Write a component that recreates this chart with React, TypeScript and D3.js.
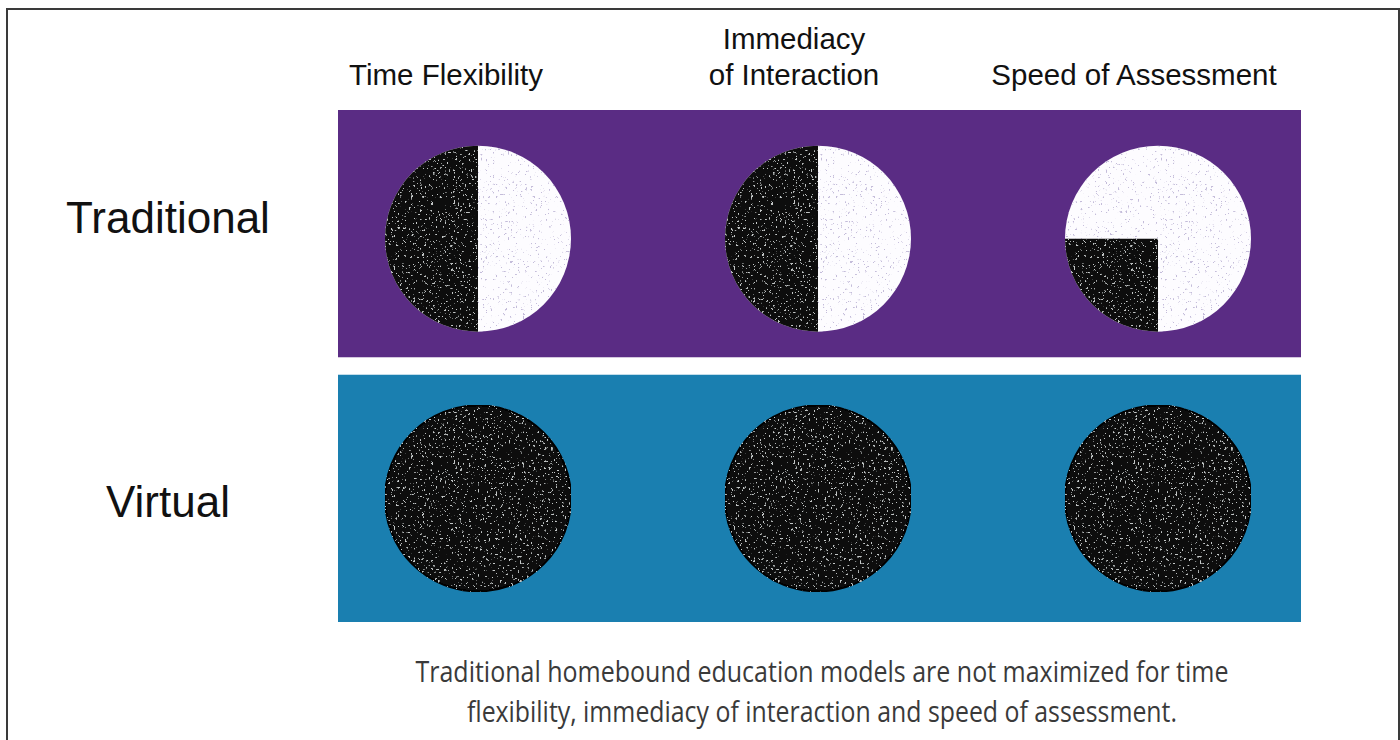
import React from "react";
import * as d3 from "d3";

const columns = ["Time Flexibility", "Immediacy of Interaction", "Speed of Assessment"];
const columnLabelLines = [["Time Flexibility"], ["Immediacy", "of Interaction"], ["Speed of Assessment"]];
const columnLabelShift = [-30, -22, -22];
const rows = ["Traditional", "Virtual"];
const traditionalValues = [0.5, 0.5, 0.25];
const virtualValues = [1, 1, 1];
const rowValues = [traditionalValues, virtualValues];
const captionLines = [
  "Traditional homebound education models are not maximized for time",
  "flexibility, immediacy of interaction and speed of assessment.",
];

const W = 1400;
const H = 740;

export default function App() {
  const x = d3.scaleBand<string>().domain(columns).range([306, 1326]).padding(0);
  const y = d3.scaleBand<string>().domain(rows).range([110, 622]).paddingInner(0.066).paddingOuter(0);
  const panelColors = ["#5a2c84", "#1a7fb0"];
  const r = 93;
  const arc = d3.arc<any>().innerRadius(0).outerRadius(r);

  return (
    <svg
      width={W}
      height={H}
      style={{ position: "absolute", left: 0, top: 0, background: "#fff" }}
      fontFamily="Arial, 'Liberation Sans', sans-serif"
    >
      <defs>
        <filter id="speckDark" x="0" y="0" width="100%" height="100%">
          <feTurbulence type="fractalNoise" baseFrequency="0.45" numOctaves="2" seed="4" result="n" />
          <feColorMatrix
            in="n"
            type="matrix"
            values="0 0 0 0 0.55  0 0 0 0 0.58  0 0 0 0 0.58  14 0 0 0 -9.2"
            result="s"
          />
          <feComposite in="s" in2="SourceGraphic" operator="in" result="sc" />
          <feMerge>
            <feMergeNode in="SourceGraphic" />
            <feMergeNode in="sc" />
          </feMerge>
        </filter>
        <filter id="speckLight" x="0" y="0" width="100%" height="100%">
          <feTurbulence type="fractalNoise" baseFrequency="0.4" numOctaves="2" seed="9" result="n" />
          <feColorMatrix
            in="n"
            type="matrix"
            values="0 0 0 0 0.55  0 0 0 0 0.5  0 0 0 0 0.7  14 0 0 0 -9.4"
            result="s"
          />
          <feComposite in="s" in2="SourceGraphic" operator="in" result="sc" />
          <feMerge>
            <feMergeNode in="SourceGraphic" />
            <feMergeNode in="sc" />
          </feMerge>
        </filter>
      </defs>
      <rect x={7} y={9} width={1392} height={780} fill="#fff" stroke="#3a3a3a" strokeWidth={2} />
      {rows.map((row, ri) => {
        const y0 = y(row)!;
        const bh = y.bandwidth();
        const cy = y0 + bh / 2 + (ri === 0 ? 5 : 0);
        return (
          <g key={row}>
            <rect x={338} y={y0} width={963} height={bh} fill={panelColors[ri]} />
            <text x={168} y={y0 + bh / 2 + (ri === 0 ? -1 : 19)} textAnchor="middle" fontSize={44} fill="#111">
              {row}
            </text>
            {columns.map((c, ci) => {
              const cx = x(c)! + x.bandwidth() / 2 + 2;
              const v = rowValues[ri][ci];
              return (
                <g key={c} transform={`translate(${cx},${cy})`}>
                  <circle r={r} fill="#fdfcff" filter="url(#speckLight)" />
                  {v >= 1 ? (
                    <circle r={r} fill="#0b0b0b" stroke="#000" strokeWidth={2} filter="url(#speckDark)" />
                  ) : (
                    <path
                      d={arc({ startAngle: Math.PI, endAngle: Math.PI + v * 2 * Math.PI }) || ""}
                      fill="#0b0b0b"
                      filter="url(#speckDark)"
                    />
                  )}
                </g>
              );
            })}
          </g>
        );
      })}
      {columns.map((c, ci) => {
        const cx = x(c)! + x.bandwidth() / 2 + columnLabelShift[ci];
        const lines = columnLabelLines[ci];
        return (
          <text key={c} textAnchor="middle" fontSize={29.5} fill="#111">
            {lines.map((l, li) => (
              <tspan key={li} x={cx} y={85 - (lines.length - 1 - li) * 36}>
                {l}
              </tspan>
            ))}
          </text>
        );
      })}
      {captionLines.map((l, i) => (
        <text
          key={i}
          x={822}
          y={682 + i * 40}
          textAnchor="middle"
          fontSize={30}
          fill="#3a3a3a"
          fontFamily="'Open Sans', sans-serif"
          textLength={i === 0 ? 813 : 710}
          lengthAdjust="spacingAndGlyphs"
        >
          {l}
        </text>
      ))}
    </svg>
  );
}
